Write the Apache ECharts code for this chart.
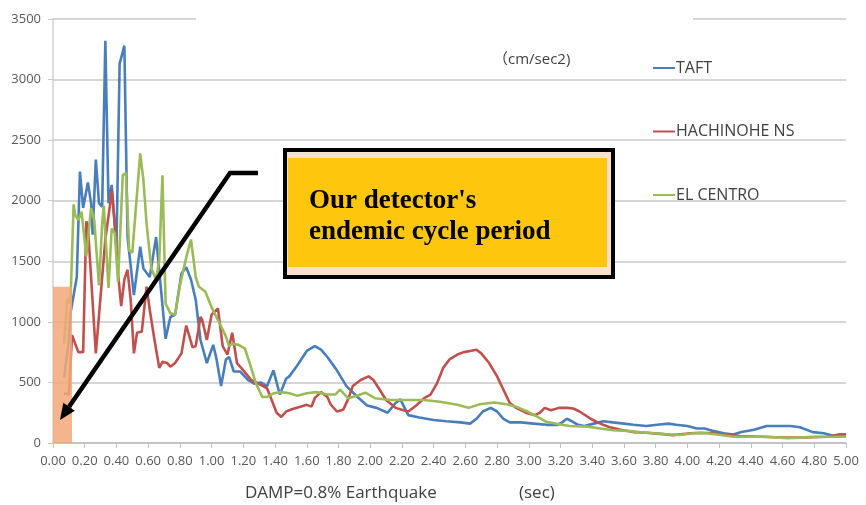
<!DOCTYPE html>
<html>
<head>
<meta charset="utf-8">
<script src="https://cdn.jsdelivr.net/npm/echarts@6/dist/echarts.min.js"></script>
<style>
  html, body { margin: 0; padding: 0; background: #fff; }
  #main { width: 866px; height: 505px; }
</style>
</head>
<body>
<div id="main"></div>
<script>
// period (sec) and response (cm/sec2)
const taftT = [0.07, 0.10, 0.11, 0.15, 0.17, 0.19, 0.22, 0.24, 0.25, 0.27, 0.29, 0.31, 0.33, 0.35, 0.37, 0.40, 0.42, 0.45, 0.47, 0.51, 0.55, 0.57, 0.61, 0.65, 0.71, 0.74, 0.77, 0.81, 0.84, 0.87, 0.90, 0.93, 0.97, 1.01, 1.03, 1.06, 1.09, 1.11, 1.14, 1.18, 1.23, 1.27, 1.31, 1.35, 1.39, 1.43, 1.47, 1.49, 1.54, 1.60, 1.65, 1.69, 1.73, 1.79, 1.85, 1.92, 1.98, 2.04, 2.11, 2.16, 2.19, 2.24, 2.31, 2.40, 2.48, 2.57, 2.63, 2.67, 2.71, 2.76, 2.80, 2.84, 2.88, 2.95, 3.03, 3.11, 3.18, 3.21, 3.24, 3.27, 3.31, 3.35, 3.41, 3.47, 3.53, 3.60, 3.66, 3.74, 3.81, 3.88, 3.93, 4.00, 4.06, 4.11, 4.16, 4.23, 4.29, 4.34, 4.42, 4.50, 4.58, 4.65, 4.71, 4.79, 4.86, 4.92, 4.96, 5.00];
const taftV = [540, 850, 1070, 1370, 2240, 1940, 2150, 1980, 1720, 2340, 1980, 1950, 3320, 1980, 2130, 1600, 3130, 3280, 1700, 1220, 1620, 1440, 1370, 1700, 860, 1040, 1060, 1400, 1450, 1350, 1180, 850, 660, 810, 700, 470, 690, 710, 590, 590, 520, 490, 500, 470, 600, 400, 530, 550, 640, 760, 800, 770, 710, 600, 470, 380, 310, 290, 250, 330, 360, 230, 210, 190, 180, 170, 160, 200, 260, 290, 260, 200, 170, 170, 160, 150, 150, 170, 200, 180, 150, 140, 160, 180, 170, 160, 150, 140, 150, 160, 150, 140, 120, 120, 100, 80, 70, 90, 110, 140, 140, 140, 130, 90, 80, 60, 70, 70];

const hachT = [0.07, 0.10, 0.11, 0.12, 0.16, 0.19, 0.21, 0.22, 0.24, 0.27, 0.30, 0.33, 0.36, 0.37, 0.39, 0.41, 0.43, 0.45, 0.47, 0.49, 0.51, 0.53, 0.56, 0.59, 0.61, 0.64, 0.67, 0.69, 0.72, 0.74, 0.77, 0.81, 0.84, 0.88, 0.90, 0.93, 0.94, 0.97, 1.00, 1.04, 1.07, 1.10, 1.13, 1.16, 1.20, 1.25, 1.31, 1.35, 1.38, 1.41, 1.44, 1.47, 1.51, 1.56, 1.60, 1.63, 1.65, 1.69, 1.73, 1.75, 1.79, 1.83, 1.86, 1.89, 1.94, 1.99, 2.02, 2.06, 2.10, 2.16, 2.21, 2.24, 2.29, 2.34, 2.38, 2.42, 2.46, 2.50, 2.55, 2.59, 2.63, 2.67, 2.70, 2.75, 2.80, 2.84, 2.88, 2.92, 2.99, 3.04, 3.07, 3.10, 3.14, 3.19, 3.24, 3.28, 3.32, 3.39, 3.45, 3.51, 3.58, 3.66, 3.74, 3.83, 3.91, 4.02, 4.08, 4.16, 4.25, 4.33, 4.46, 4.56, 4.67, 4.79, 4.88, 4.94, 5.00];
const hachV = [410, 400, 410, 890, 750, 750, 1830, 1790, 1370, 740, 1210, 1680, 1970, 2090, 1810, 1400, 1130, 1350, 1430, 1180, 740, 910, 920, 1290, 1100, 850, 620, 670, 660, 630, 660, 740, 970, 790, 800, 1040, 1020, 850, 1060, 1110, 800, 730, 910, 660, 600, 520, 480, 450, 350, 250, 215, 260, 280, 300, 315, 300, 370, 420, 380, 320, 260, 275, 360, 470, 520, 550, 520, 440, 355, 290, 270, 260, 310, 370, 400, 490, 620, 690, 730, 750, 760, 770, 740, 660, 550, 440, 330, 290, 245, 230, 250, 290, 270, 290, 290, 285, 260, 200, 160, 130, 110, 90, 85, 75, 65, 80, 85, 80, 65, 58, 52, 47, 44, 47, 52, 66, 72];

const elcT = [0.07, 0.09, 0.11, 0.13, 0.14, 0.16, 0.18, 0.21, 0.24, 0.26, 0.29, 0.31, 0.32, 0.35, 0.37, 0.39, 0.41, 0.44, 0.46, 0.48, 0.50, 0.55, 0.57, 0.59, 0.62, 0.65, 0.67, 0.69, 0.71, 0.74, 0.77, 0.80, 0.84, 0.87, 0.90, 0.92, 0.96, 1.00, 1.05, 1.09, 1.11, 1.13, 1.17, 1.21, 1.24, 1.28, 1.32, 1.35, 1.39, 1.44, 1.49, 1.54, 1.60, 1.66, 1.73, 1.78, 1.81, 1.86, 1.89, 1.97, 2.03, 2.13, 2.23, 2.34, 2.44, 2.55, 2.62, 2.69, 2.78, 2.86, 2.92, 2.99, 3.05, 3.11, 3.19, 3.26, 3.37, 3.45, 3.53, 3.62, 3.70, 3.79, 3.87, 3.95, 4.04, 4.12, 4.21, 4.29, 4.40, 4.50, 4.63, 4.71, 4.79, 4.88, 5.00];
const elcV = [820, 1190, 1150, 1970, 1880, 1840, 1910, 1540, 1940, 1840, 1300, 1810, 1960, 1280, 1770, 1730, 1330, 2210, 2230, 1590, 1570, 2390, 2170, 1810, 1440, 1350, 1510, 2210, 1150, 1070, 1060, 1300, 1530, 1680, 1370, 1290, 1250, 1120, 990, 880, 800, 820, 810, 780, 660, 490, 380, 380, 410, 420, 410, 390, 410, 420, 400, 400, 440, 370, 380, 415, 370, 355, 355, 355, 340, 315, 290, 320, 335, 320, 300, 260, 220, 175, 155, 140, 135, 120, 105, 100, 90, 80, 72, 66, 80, 80, 66, 52, 52, 52, 40, 44, 52, 52, 52];

const seriesNames = ['TAFT', 'HACHINOHE NS', 'EL CENTRO'];
const seriesColors = ['#4A7EBB', '#C0504D', '#9BBB59'];

// shaded band: detector's own period range
const bandPeriod = [0, 0.12];
const bandHeight = 1290;

const pair = (ts, vs) => ts.map((t, i) => [t, vs[i]]);
const seriesData = [pair(taftT, taftV), pair(hachT, hachV), pair(elcT, elcV)];

const FONT = '"Open Sans", "Noto Sans CJK JP", sans-serif';

const chart = echarts.init(document.getElementById('main'));

chart.setOption({
  animation: false,
  backgroundColor: '#fff',
  textStyle: { fontFamily: FONT },
  grid: { left: 53, right: 20, top: 19, bottom: 62 },
  legend: {
    orient: 'vertical',
    left: 648,
    top: 55,
    itemWidth: 22,
    itemHeight: 14,
    itemGap: 47.5,
    icon: 'path://M0,6 L22,6 L22,8 L0,8 Z',
    textStyle: { fontSize: 16, color: '#404040', fontFamily: FONT, padding: [0, 0, 0, -4] },
    data: seriesNames
  },
  xAxis: {
    type: 'value',
    min: 0,
    max: 5,
    interval: 0.2,
    axisLine: { lineStyle: { color: '#BFBFBF', width: 1.5 } },
    axisTick: { show: true, length: 5, lineStyle: { color: '#BFBFBF' } },
    axisLabel: { formatter: v => v.toFixed(2), fontSize: 13, color: '#595959', margin: 12, fontFamily: FONT },
    splitLine: { show: false }
  },
  yAxis: {
    type: 'value',
    min: 0,
    max: 3500,
    interval: 500,
    axisLine: { show: true, lineStyle: { color: '#D0D0D0', width: 1.5 } },
    axisTick: { show: true, length: 5, lineStyle: { color: '#C8C8C8' } },
    axisLabel: { formatter: v => String(v), fontSize: 13, color: '#595959', margin: 12, fontFamily: FONT },
    splitLine: { lineStyle: { color: '#C8C8C8', width: 1.5 } }
  },
  series: seriesNames.map((name, i) => ({
    name: name,
    type: 'line',
    data: seriesData[i],
    symbol: 'none',
    smooth: false,
    lineStyle: { width: 2.6, color: seriesColors[i] },
    itemStyle: { color: seriesColors[i] },
    z: 2 + i
  }))
});

// annotations drawn on top
const p0 = chart.convertToPixel({ gridIndex: 0 }, [bandPeriod[0], bandHeight]);
const p1 = chart.convertToPixel({ gridIndex: 0 }, [bandPeriod[1], 0]);

const tip = [60, 420];
const elbow = [230, 173];
const ux = tip[0] - elbow[0], uy = tip[1] - elbow[1];
const len = Math.sqrt(ux * ux + uy * uy);
const dx = ux / len, dy = uy / len;
const headLen = 16, headW = 7;
const base = [tip[0] - dx * headLen, tip[1] - dy * headLen];

chart.setOption({
  graphic: [
    // hide part of the top gridline as in the original
    { type: 'rect', z: 50, shape: { x: 196, y: 16, width: 497, height: 6 }, style: { fill: '#fff' } },
    {
      type: 'rect', z: 100,
      shape: { x: p0[0], y: p0[1], width: p1[0] - p0[0], height: p1[1] - p0[1] },
      style: { fill: '#F2A878', opacity: 0.85 }
    },
    {
      type: 'polyline', z: 110,
      shape: { points: [[258, 173], elbow, base] },
      style: { stroke: '#000', lineWidth: 4.5, fill: null }
    },
    {
      type: 'polygon', z: 110,
      shape: { points: [tip, [base[0] + dy * headW, base[1] - dx * headW], [base[0] - dy * headW, base[1] + dx * headW]] },
      style: { fill: '#000' }
    },
    {
      type: 'rect', z: 110,
      shape: { x: 285, y: 150, width: 328, height: 127 },
      style: { fill: '#FBE1CC', stroke: '#000', lineWidth: 4 }
    },
    {
      type: 'rect', z: 111,
      shape: { x: 288, y: 158, width: 319, height: 109 },
      style: { fill: '#FEC60C' }
    },
    {
      type: 'text', z: 112, x: 309, y: 201,
      style: { text: "Our detector's", font: 'bold 27px "Liberation Serif", serif', fill: '#000', verticalAlign: 'middle' }
    },
    {
      type: 'text', z: 112, x: 309, y: 232,
      style: { text: 'endemic cycle period', font: 'bold 27px "Liberation Serif", serif', fill: '#000', verticalAlign: 'middle' }
    },
    {
      type: 'text', z: 112, x: 493, y: 60,
      style: { text: '（cm/sec2)', font: '15px ' + FONT, fill: '#404040', verticalAlign: 'middle' }
    },
    {
      type: 'text', z: 112, x: 245, y: 493,
      style: { text: 'DAMP=0.8% Earthquake', font: '17px ' + FONT, fill: '#404040', verticalAlign: 'middle' }
    },
    {
      type: 'text', z: 112, x: 519, y: 493,
      style: { text: '(sec)', font: '17px ' + FONT, fill: '#404040', verticalAlign: 'middle' }
    }
  ]
});
</script>
</body>
</html>
